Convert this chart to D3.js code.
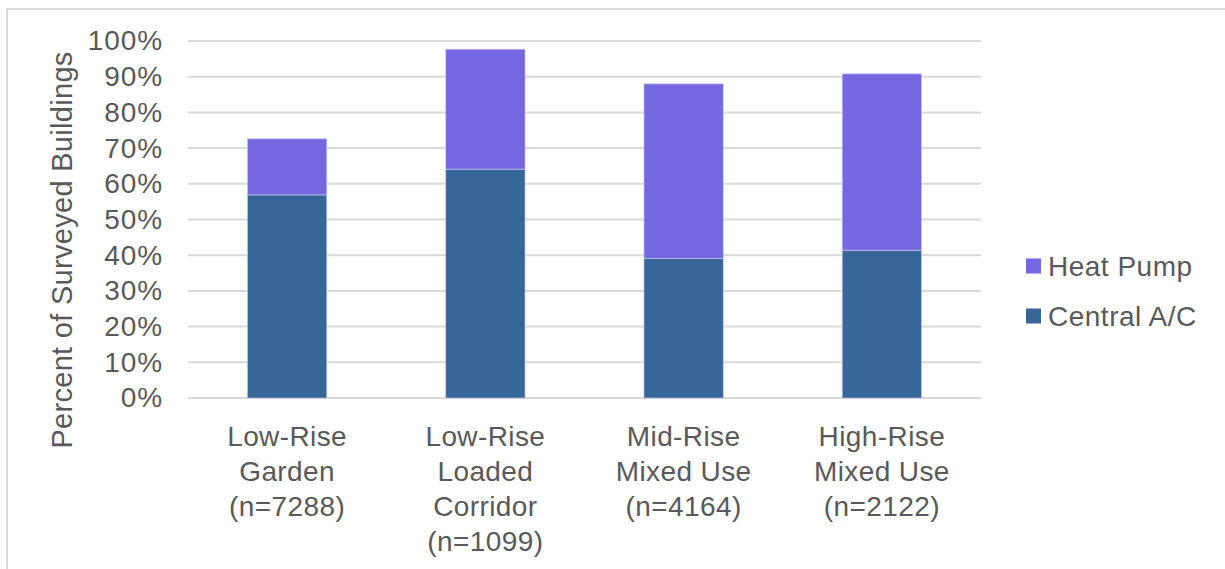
<!DOCTYPE html>
<html>
<head>
<meta charset="utf-8">
<script src="https://cdn.jsdelivr.net/npm/d3@7"></script>
<style>
  html, body { margin: 0; padding: 0; background: #fff; }
  svg { display: block; font-family: "Liberation Sans", Arial, sans-serif; }
</style>
</head>
<body>
<svg id="chart" width="1225" height="569"></svg>
<script>
const categories = [
  ["Low-Rise", "Garden", "(n=7288)"],
  ["Low-Rise", "Loaded", "Corridor", "(n=1099)"],
  ["Mid-Rise", "Mixed Use", "(n=4164)"],
  ["High-Rise", "Mixed Use", "(n=2122)"]
];
const centralAC = [56.9, 64.1, 39.1, 41.4];
const heatPump = [15.7, 33.6, 48.9, 49.4];
const seriesNames = ["Central A/C", "Heat Pump"];
const yTicks = [0, 10, 20, 30, 40, 50, 60, 70, 80, 90, 100];
const yTitle = "Percent of Surveyed Buildings";

const colors = { "Central A/C": "#376699", "Heat Pump": "#7567e0" };
const textColor = "#595959";
const gridColor = "#d9d9d9";

const svg = d3.select("#chart");

// outer frame
svg.append("rect").attr("x", 7).attr("y", 9).attr("width", 1240).attr("height", 600)
  .attr("fill", "none").attr("stroke", gridColor).attr("stroke-width", 2);

const plot = { left: 188, right: 981, top: 41, bottom: 398 };

const x = d3.scaleBand()
  .domain(d3.range(categories.length))
  .range([plot.left, plot.right])
  .paddingInner(0.6)
  .paddingOuter(0.3);

const y = d3.scaleLinear().domain([0, 100]).range([plot.bottom, plot.top]);

// gridlines
svg.append("g").selectAll("line").data(yTicks).join("line")
  .attr("x1", plot.left).attr("x2", plot.right)
  .attr("y1", d => y(d)).attr("y2", d => y(d))
  .attr("stroke", gridColor).attr("stroke-width", 2);

// y axis labels
const yAxis = d3.axisLeft(y).tickValues(yTicks).tickFormat(d => d + "%").tickSize(0).tickPadding(0);
const yg = svg.append("g").attr("transform", `translate(${plot.left - 25},0)`).call(yAxis);
yg.select(".domain").remove();
yg.selectAll("text")
  .attr("fill", textColor)
  .style("font-size", "28px")
  .style("letter-spacing", "0.9px")
  .style("font-family", "'Liberation Sans', Arial, sans-serif");

// stacked data
const rows = categories.map((c, i) => ({ i, "Central A/C": centralAC[i], "Heat Pump": heatPump[i] }));
const stack = d3.stack().keys(seriesNames)(rows);

svg.append("g").selectAll("g").data(stack).join("g")
  .attr("fill", d => colors[d.key])
  .selectAll("rect").data(d => d).join("rect")
  .attr("x", d => x(d.data.i))
  .attr("width", x.bandwidth())
  .attr("y", d => y(d[1]))
  .attr("height", d => y(d[0]) - y(d[1]))
  .attr("stroke", "#c8c4f4")
  .attr("stroke-width", 0.8)
  .attr("stroke-opacity", 0.8);

// x labels
const xg = svg.append("g");
categories.forEach((lines, i) => {
  const t = xg.append("text")
    .attr("x", x(i) + x.bandwidth() / 2)
    .attr("y", 446)
    .attr("text-anchor", "middle")
    .attr("fill", textColor)
    .style("font-size", "28px")
    .style("letter-spacing", "0.4px");
  lines.forEach((ln, k) => {
    t.append("tspan").attr("x", x(i) + x.bandwidth() / 2).attr("y", 446 + k * 35).text(ln);
  });
});

// y title
svg.append("text")
  .attr("transform", "translate(72,250) rotate(-90)")
  .attr("text-anchor", "middle")
  .attr("fill", textColor)
  .style("font-size", "29px")
  .style("letter-spacing", "0.3px")
  .text(yTitle);

// legend
const legendItems = ["Heat Pump", "Central A/C"];
const lg = svg.append("g");
legendItems.forEach((name, k) => {
  const cy = 266 + k * 50;
  lg.append("rect").attr("x", 1026).attr("y", cy - 7.5).attr("width", 15).attr("height", 15)
    .attr("fill", colors[name]);
  lg.append("text").attr("x", 1048).attr("y", cy + 10)
    .attr("fill", textColor).style("font-size", "28px").style("letter-spacing", "0.5px").text(name);
});
</script>
</body>
</html>
